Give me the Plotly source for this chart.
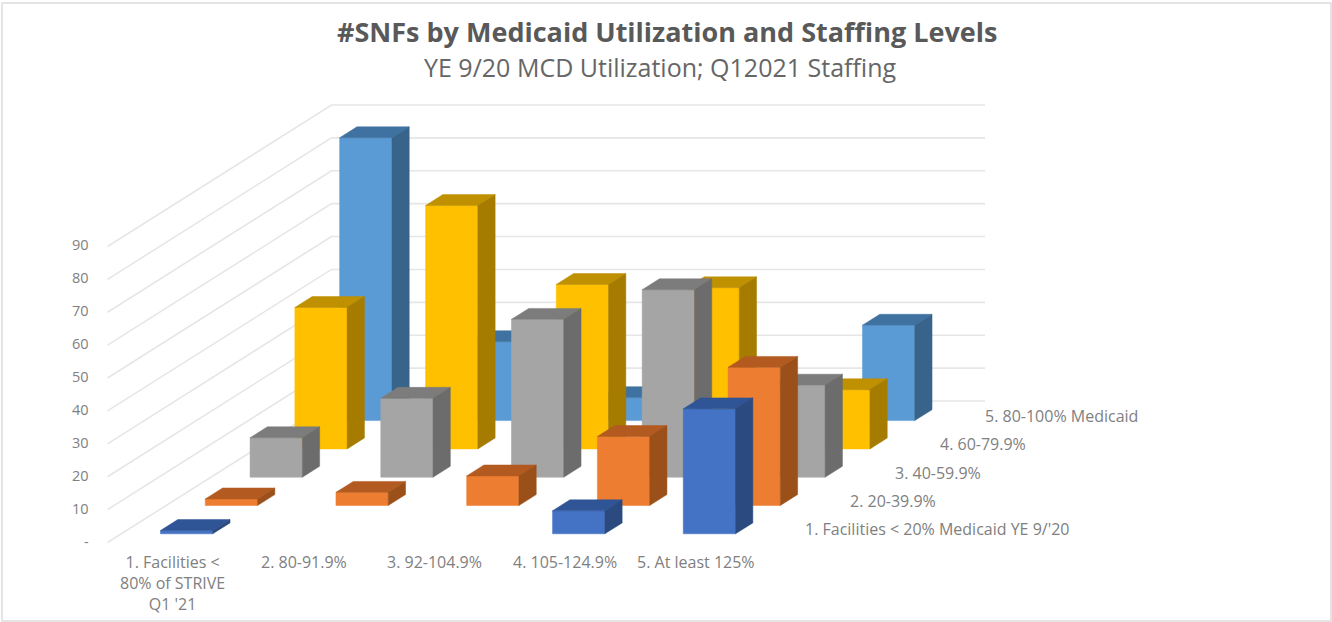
import plotly.graph_objects as go

# ---- data -----------------------------------------------------------------
staffing_levels = ["1. Facilities <<br>80% of STRIVE<br>Q1 '21", "2. 80-91.9%", "3. 92-104.9%",
                   "4. 105-124.9%", "5. At least 125%"]
medicaid_levels = ["1. Facilities < 20% Medicaid YE 9/'20", "2. 20-39.9%", "3. 40-59.9%",
                   "4. 60-79.9%", "5. 80-100% Medicaid"]
value_ticks = [0, 10, 20, 30, 40, 50, 60, 70, 80, 90]

medicaid_under_20 = [1, None, None, 7, 38]
medicaid_20_39 = [2, 4, 9, 21, 42]
medicaid_40_59 = [12, 24, 48, 57, 28]
medicaid_60_79 = [43, 74, 50, 49, 18]
medicaid_80_100 = [86, 24, 7, 5, 29]

series_values = [medicaid_under_20, medicaid_20_39, medicaid_40_59, medicaid_60_79, medicaid_80_100]
# front, top, side
series_colors = [("#4472C4", "#2F5597", "#2A4A80"),
                 ("#ED7D31", "#B25A20", "#9C5019"),
                 ("#A5A5A5", "#7C7C7C", "#6C6C6C"),
                 ("#FFC000", "#BF9000", "#A67C00"),
                 ("#5B9BD5", "#3F72A0", "#38648C")]

# ---- oblique 3-D axis: category / depth / value -> plot position ------------
ORIGIN_X, ORIGIN_Y = 107.5, 542.5
CAT_DX, DEPTH_DX, DEPTH_DY, VALUE_DY = 130.7, 44.8, 28.3, 3.289
BAR_GAP, DEPTH_GAP = 0.30, 0.307


def project(c, z, v):
    return ORIGIN_X + CAT_DX * c + DEPTH_DX * z, ORIGIN_Y - DEPTH_DY * z - VALUE_DY * v


def polygon(points):
    xy = [project(*p) for p in points]
    xy.append(xy[0])
    return [p[0] for p in xy] + [None], [p[1] for p in xy] + [None]


GREY = "#808080"
GRID = "#e6e6e6"
FAMILY = "Open Sans, sans-serif"
n_cat, n_depth = len(staffing_levels), len(medicaid_levels)
fig = go.Figure()

# gridlines on the side wall and the back wall
gx, gy = [], []
for v in value_ticks:
    a = project(0, 0, v)
    b = project(0, n_depth, v)
    c = project(n_cat, n_depth, v)
    gx += [a[0], b[0], c[0], None]
    gy += [a[1], b[1], c[1], None]
fig.add_trace(go.Scatter(x=gx, y=gy, mode="lines", line=dict(color=GRID, width=1.6),
                         hoverinfo="skip", showlegend=False))

# bars, back row first
for s in reversed(range(n_depth)):
    faces = [([], []), ([], []), ([], [])]
    for c, v in enumerate(series_values[s]):
        if v is None:
            continue
        c0, c1 = c + BAR_GAP, c + 1 - BAR_GAP
        z0, z1 = s + DEPTH_GAP, s + 1 - DEPTH_GAP
        quads = [
            [(c0, z0, 0), (c1, z0, 0), (c1, z0, v), (c0, z0, v)],
            [(c0, z0, v), (c1, z0, v), (c1, z1, v), (c0, z1, v)],
            [(c1, z0, 0), (c1, z1, 0), (c1, z1, v), (c1, z0, v)],
        ]
        for f, q in zip(faces, quads):
            px, py = polygon(q)
            f[0].extend(px)
            f[1].extend(py)
    for f, col, part in zip(faces, series_colors[s], ("front", "top", "side")):
        fig.add_trace(go.Scatter(x=f[0], y=f[1], mode="lines", fill="toself", fillcolor=col,
                                 line=dict(color=col, width=0.5), name=f"{medicaid_levels[s]} {part}",
                                 hoverinfo="skip", showlegend=False))

# axis labels
ann = []
font = dict(family=FAMILY, size=16, color=GREY)
small = dict(family=FAMILY, size=14.5, color=GREY)
for v in value_ticks:
    x, y = project(0, 0, v)
    ann.append(dict(x=x - 17, y=y - 1.5, text=str(v) if v else "-", xanchor="right", yanchor="middle",
                    showarrow=False, font=small))
for c, label in enumerate(staffing_levels):
    x, y = project(c + 0.5, 0, 0)
    ann.append(dict(x=x, y=y + 6, text=label, xanchor="center", yanchor="top", align="center",
                    showarrow=False, font=font))
for s, label in enumerate(medicaid_levels):
    x, y = project(n_cat, s + 0.5, 0)
    ann.append(dict(x=x + 20, y=y + 1, text=label, xanchor="left", yanchor="middle",
                    showarrow=False, font=font))
ann.append(dict(x=667, y=31, text="<b>#SNFs by Medicaid Utilization and Staffing Levels</b>", xanchor="center",
                yanchor="middle", showarrow=False, borderpad=0,
                font=dict(family=FAMILY, size=27, color="#595959")))
ann.append(dict(x=660, y=67, text="YE 9/20 MCD Utilization; Q12021 Staffing", xanchor="center",
                yanchor="middle", showarrow=False, borderpad=0,
                font=dict(family=FAMILY, size=25, color="#666666")))

fig.update_layout(
    width=1332, height=622, margin=dict(l=0, r=0, t=0, b=0),
    paper_bgcolor="white", plot_bgcolor="white", showlegend=False,
    xaxis=dict(range=[0, 1332], visible=False, fixedrange=True),
    yaxis=dict(range=[622, 0], visible=False, fixedrange=True),
    annotations=ann,
    shapes=[dict(type="rect", x0=2, y0=3, x1=1331, y1=621, line=dict(color="#e4e4e4", width=2), layer="below")],
)
fig.write_html("out.html", config={"displayModeBar": False},
               post_script="document.body.style.margin='0';")
